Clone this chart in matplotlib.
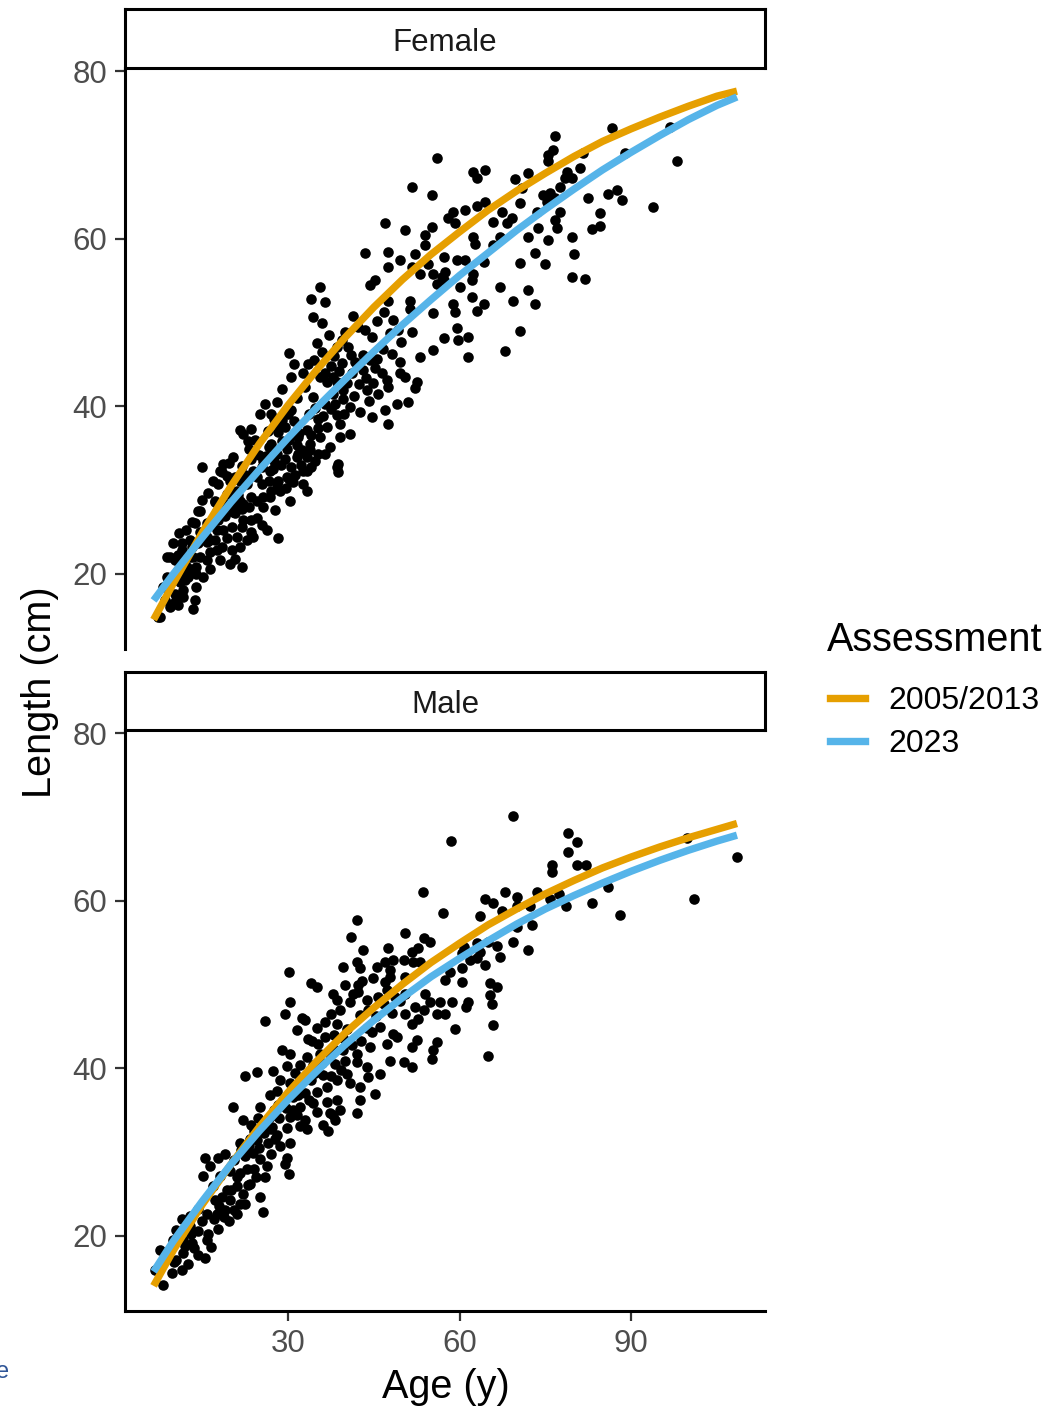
import numpy as np
import matplotlib
matplotlib.use("Agg")
import matplotlib.pyplot as plt
from matplotlib.lines import Line2D

plt.rcParams['font.family'] = ['Liberation Sans', 'DejaVu Sans']

# Alter (y) und Laenge (cm) der Einzelfische
female_points = np.array([
    (76.7, 72.2), (76.4, 70.6), (75.5, 70.0), (75.5, 69.2), (86.6, 73.2), (88.9, 70.2), (96.8, 73.3), (98.0, 69.2),
    (93.9, 63.8), (88.4, 64.6), (87.5, 65.8), (86.0, 65.3), (82.5, 64.9), (84.6, 63.0), (84.6, 61.5), (83.1, 61.1),
    (81.1, 68.4), (81.6, 70.2), (79.6, 67.2), (78.5, 67.2), (78.7, 68.0), (77.6, 66.2), (76.7, 64.8), (75.8, 65.4),
    (74.6, 65.2), (75.2, 64.4), (77.6, 63.2), (76.7, 62.2), (77.0, 61.2), (73.7, 61.2), (73.5, 63.2), (72.0, 67.8),
    (69.7, 67.1), (70.9, 66.0), (70.6, 64.2), (72.0, 60.2), (73.2, 58.3), (75.5, 59.8), (75.0, 57.0), (70.6, 57.1),
    (72.0, 53.8), (73.2, 52.2), (69.4, 52.6), (70.6, 49.0), (79.6, 60.2), (80.0, 58.1), (79.6, 55.4), (81.9, 55.2),
    (67.9, 46.6), (67.1, 54.2), (64.2, 52.2), (63.0, 51.4), (62.1, 53.0), (58.9, 52.2), (59.2, 51.2), (60.1, 54.2),
    (59.5, 49.3), (59.8, 47.9), (61.5, 48.3), (57.2, 48.1), (61.5, 45.9), (62.4, 55.8), (62.1, 55.0), (64.2, 57.2),
    (61.0, 57.4), (59.5, 57.4), (57.2, 57.8), (57.5, 56.0), (57.2, 55.0), (62.7, 59.4), (62.4, 60.2), (65.9, 59.2),
    (67.1, 60.2), (65.9, 62.0), (68.3, 61.8), (69.1, 62.4), (67.4, 63.2), (64.5, 64.4), (63.0, 63.9), (61.0, 63.4),
    (58.9, 63.2), (58.0, 62.4), (59.2, 61.8), (62.4, 68.0), (63.0, 67.2), (64.5, 68.2), (56.0, 69.6),
    (51.6, 66.2), (55.1, 65.2), (47.0, 61.8), (50.5, 61.0), (55.1, 61.4), (54.0, 60.4), (54.0, 59.2), (52.2, 58.2),
    (47.5, 58.4), (43.5, 58.3), (49.6, 57.4), (47.5, 56.6), (51.6, 56.6), (53.1, 55.8), (54.5, 57.0), (55.4, 55.8),
    (45.2, 55.0), (44.3, 54.4), (35.6, 54.2), (56.9, 55.4), (56.0, 54.6),
    (34.1, 52.8), (36.5, 52.4), (34.4, 50.6), (35.9, 49.9), (41.4, 50.7), (46.7, 51.2), (51.3, 52.6), (51.3, 51.6),
    (47.5, 52.6), (55.4, 51.1), (43.5, 49.1), (44.6, 48.3), (42.3, 49.5), (45.5, 50.1), (47.8, 48.7), (49.3, 49.1),
    (51.6, 48.9), (48.4, 50.3), (40.0, 48.9), (39.4, 47.9), (38.5, 47.1), (40.5, 47.1), (41.1, 46.1), (43.2, 46.1),
    (41.7, 45.3), (44.3, 45.5), (45.2, 44.5), (43.2, 44.3), (46.4, 43.9), (47.3, 43.1), (47.5, 42.3), (49.6, 45.3),
    (49.6, 43.9), (50.5, 43.5), (52.5, 42.9), (53.1, 45.9), (52.2, 42.1), (49.0, 40.3), (51.0, 40.5), (47.5, 37.9),
    (47.0, 39.5), (44.6, 38.7), (42.6, 39.3), (37.9, 41.5), (39.7, 41.9), (40.3, 42.7), (38.5, 42.9), (36.8, 42.9),
    (35.6, 43.5), (32.7, 43.9), (33.0, 42.3), (34.4, 41.1), (36.5, 40.3), (38.2, 40.3), (39.7, 40.9), (40.8, 39.9),
    (43.8, 41.9), (44.9, 42.7), (45.8, 41.5), (35.3, 38.5), (36.8, 37.5), (39.1, 37.9), (40.8, 36.7), (39.1, 36.3),
    (35.6, 36.3), (33.3, 37.1), (33.8, 35.5), (37.3, 35.1), (38.8, 33.1), (38.8, 32.1), (33.3, 33.9), (32.4, 34.7),
    (33.3, 32.3), (55.4, 46.7),
    (26.0, 40.3), (25.1, 39.1), (21.6, 37.1), (22.2, 36.7), (23.6, 37.3), (14.9, 32.7), (20.4, 33.9), (18.7, 33.1),
    (18.1, 32.3), (19.3, 31.7), (16.9, 31.1), (17.8, 30.7), (21.9, 32.9), (23.6, 33.7), (20.7, 31.5), (22.8, 30.7),
    (24.5, 31.5), (25.4, 32.7), (26.6, 31.1), (27.1, 29.9), (25.7, 29.1), (24.5, 28.7), (23.1, 27.9), (21.6, 28.7),
    (20.7, 28.3), (19.0, 28.3), (17.2, 28.7), (17.5, 27.5), (14.6, 27.5), (13.7, 26.0), (14.6, 25.0), (16.7, 26.0),
    (19.0, 26.9), (20.7, 27.2), (21.9, 27.7), (23.6, 26.4), (24.5, 26.6), (21.9, 25.6), (20.2, 25.6), (18.7, 25.2),
    (17.2, 24.0), (15.8, 23.8), (13.2, 23.2), (11.4, 23.6), (9.9, 23.6), (9.4, 22.0), (10.8, 22.2), (12.9, 22.0),
    (14.6, 22.0), (16.4, 22.6), (18.4, 23.2), (20.2, 22.8), (21.6, 23.2), (21.0, 24.4), (23.6, 25.0), (28.3, 24.2),
    (21.9, 20.8), (12.3, 20.8), (14.0, 20.8), (10.8, 20.4), (8.8, 19.6), (11.1, 19.0), (12.6, 19.6), (14.0, 18.4),
    (10.2, 17.6), (11.7, 17.2), (8.5, 16.8), (9.7, 16.4), (13.4, 15.8), (7.3, 14.8), (10.8, 16.2),
    (26.6, 35.1), (28.3, 36.9), (28.9, 38.3), (30.6, 39.5), (29.5, 33.7), (30.6, 32.7), (31.8, 34.3), (30.1, 31.3),
    (33.3, 29.9), (30.3, 28.7), (28.3, 31.1), (27.4, 32.5), (27.1, 35.5), (28.0, 34.3), (31.8, 36.3), (34.1, 32.7),
    (35.3, 34.3), (38.5, 32.7),
    (23.1, 34.9), (25.7, 33.5), (26.9, 32.3), (28.0, 30.7), (29.8, 31.5), (30.9, 30.9), (28.6, 29.9), (26.8, 29.1),
    (25.7, 27.9), (23.9, 24.4), (22.2, 26.4), (19.3, 24.2), (17.5, 22.8), (15.8, 21.6), (16.4, 20.6), (14.0, 20.0),
    (13.7, 16.8), (10.5, 16.8), (9.4, 16.0), (7.6, 14.8), (8.2, 18.4), (10.2, 21.6), (8.8, 22.0), (11.4, 22.8),
    (12.9, 24.0), (13.2, 26.2), (14.3, 27.5), (15.8, 26.0), (17.2, 28.5), (19.3, 29.5), (18.4, 32.1), (19.9, 31.1),
    (21.6, 31.1), (21.0, 29.9), (19.9, 27.9), (22.2, 28.3), (23.6, 29.1), (17.5, 25.2), (16.4, 24.0), (18.1, 21.6),
    (19.9, 21.2), (15.2, 19.6), (12.0, 19.2), (11.7, 18.0), (14.3, 23.6), (13.4, 22.0), (12.6, 20.4), (11.1, 20.0),
    (15.8, 24.4), (17.8, 26.4), (20.4, 27.3), (25.4, 30.7), (31.5, 33.9), (29.8, 34.9), (32.7, 32.3), (32.7, 30.7),
    (34.7, 33.5), (36.5, 34.3), (33.8, 34.7),
    (29.0, 42.0), (30.5, 43.5), (31.5, 41.0), (28.0, 40.5), (30.0, 39.0), (27.5, 38.5), (29.5, 37.5), (27.0, 39.0),
    (28.5, 37.8), (26.5, 37.0), (30.2, 36.0), (29.0, 35.8), (31.0, 38.2), (34.5, 45.5), (36.0, 46.5), (37.5, 44.8),
    (36.5, 44.0), (33.5, 45.0), (38.0, 46.0), (35.0, 47.5), (37.2, 48.5), (39.5, 45.2), (31.0, 45.0), (30.2, 46.3),
    (20.0, 30.0), (21.2, 29.4), (22.5, 31.8), (23.8, 32.2), (24.9, 34.2), (26.2, 34.0), (27.6, 33.4), (28.8, 33.0),
    (29.6, 30.2), (31.2, 31.8), (32.2, 33.0), (34.0, 36.5), (35.2, 37.4), (36.2, 38.8), (37.6, 39.6), (38.6, 38.9),
    (39.8, 39.0), (41.6, 41.2), (42.4, 42.6), (43.6, 43.4), (44.2, 40.6), (45.6, 45.6), (46.6, 46.8), (48.2, 46.2),
    (49.8, 47.6), (41.2, 44.0), (39.0, 44.2), (37.8, 43.5), (34.8, 39.8), (33.6, 39.0), (32.0, 36.8), (31.6, 35.4),
    (24.2, 36.0), (23.0, 35.8), (19.6, 33.2), (16.0, 29.6), (15.0, 28.8), (12.2, 25.2), (11.0, 24.8), (25.5, 25.8),
    (27.8, 27.6), (26.4, 25.2), (22.8, 24.0), (20.8, 21.8),
])

male_points = np.array([
    (69.4, 70.1), (79.0, 68.1), (80.5, 67.0), (79.0, 65.8), (76.1, 64.3), (76.1, 63.4), (80.5, 64.2), (82.1, 64.2),
    (86.0, 61.6), (83.1, 59.7), (88.1, 58.3), (99.7, 67.5), (101.0, 60.2), (108.5, 65.2), (78.6, 59.4), (73.5, 61.0),
    (75.8, 60.2), (77.3, 60.8), (68.0, 61.0), (70.0, 60.4), (64.5, 60.2), (65.9, 59.7), (67.4, 58.8), (63.6, 58.1),
    (70.0, 59.3), (72.3, 59.4), (70.0, 56.9), (72.6, 57.1), (69.4, 55.1), (66.5, 54.6), (67.1, 53.3), (72.0, 54.1),
    (65.0, 55.1), (63.6, 53.9), (64.5, 52.3), (65.3, 50.1), (66.5, 49.7),
    (58.5, 67.1), (53.6, 61.0), (57.1, 58.5), (42.0, 57.7), (41.0, 55.7), (50.5, 56.1), (43.1, 54.1), (47.5, 54.3),
    (53.7, 55.5), (54.8, 55.1), (52.8, 54.3), (51.6, 53.9), (39.7, 52.1), (42.0, 52.7), (42.6, 51.9), (45.5, 52.1),
    (47.0, 52.7), (48.4, 52.9), (50.2, 52.9), (51.9, 52.7), (53.1, 52.7), (47.8, 51.7), (47.8, 50.9), (47.0, 50.3),
    (47.3, 49.3), (50.5, 50.9), (40.0, 49.9), (42.3, 49.9), (42.3, 49.1), (37.9, 48.9), (38.5, 48.1), (40.8, 47.9),
    (43.8, 48.1), (45.8, 48.5), (44.0, 46.9), (42.6, 46.3), (39.1, 46.9), (37.6, 46.5), (38.5, 45.3), (40.3, 44.7),
    (46.1, 44.9), (44.6, 44.3), (48.4, 44.1), (50.5, 46.5), (52.2, 47.3), (53.7, 46.9), (52.8, 45.9), (51.6, 45.3),
    (54.8, 47.9), (56.6, 47.9), (53.9, 48.9), (56.0, 46.5), (58.6, 47.9), (57.5, 46.5), (59.2, 44.7), (57.5, 50.5),
    (58.3, 51.5), (60.4, 51.9), (60.4, 50.3), (61.5, 47.9), (61.2, 47.3), (65.3, 48.7), (65.6, 47.7), (65.9, 45.1),
    (60.7, 54.5), (61.8, 52.9), (63.0, 53.1), (60.4, 53.7), (63.0, 54.9), (50.5, 48.9), (48.7, 48.5),
    (30.1, 51.5), (30.3, 47.9), (29.5, 46.5), (34.1, 50.1), (35.0, 49.7), (33.0, 45.7), (28.9, 42.1), (30.3, 41.7),
    (33.3, 41.3), (35.6, 41.7), (34.4, 40.4), (32.1, 40.4), (29.8, 40.2), (28.6, 38.6), (30.3, 38.2), (32.1, 38.6),
    (34.1, 38.6), (36.2, 39.2), (36.8, 37.8), (35.0, 37.2), (33.0, 37.0), (30.9, 36.6), (29.2, 36.2), (32.1, 35.4),
    (34.4, 35.8), (36.8, 36.0), (38.5, 36.2), (39.1, 35.0), (37.3, 34.6), (35.0, 34.8), (33.0, 33.8), (30.3, 34.2),
    (36.2, 33.2), (38.2, 33.8), (40.8, 38.2), (42.6, 37.8), (40.3, 39.3), (43.8, 40.1), (42.0, 40.7), (40.0, 40.9),
    (38.2, 40.5), (44.0, 38.9), (45.2, 36.9), (42.6, 36.2), (42.0, 34.6), (38.5, 38.6), (37.3, 41.7), (39.7, 42.1),
    (42.0, 41.7), (44.3, 42.5), (47.3, 42.9), (49.0, 43.7), (47.8, 40.9), (51.6, 40.1), (50.2, 40.7), (55.1, 41.1),
    (55.4, 42.1), (52.5, 43.3), (51.6, 42.5), (46.1, 39.3), (65.0, 41.5), (56.0, 43.1),
    (22.5, 39.1), (24.5, 39.5), (27.4, 39.7), (20.4, 35.4), (22.2, 33.8), (23.6, 33.2), (24.8, 34.0), (25.1, 35.4),
    (26.8, 36.8), (28.0, 37.3), (27.1, 32.7), (27.7, 31.5), (28.6, 30.7), (30.3, 31.1), (29.8, 32.9), (32.1, 33.1),
    (33.3, 32.7), (31.5, 34.4), (29.8, 29.3), (30.1, 27.3), (29.5, 28.5), (26.3, 28.3), (25.1, 29.1), (23.9, 29.9),
    (22.5, 29.5), (21.6, 31.1), (23.4, 31.5), (15.5, 29.3), (17.8, 29.3), (19.0, 29.7), (16.4, 28.3), (15.2, 27.1),
    (18.1, 27.1), (19.9, 27.7), (21.6, 27.5), (22.8, 27.9), (21.0, 25.9), (23.4, 26.2), (19.3, 25.4), (18.4, 24.6),
    (19.9, 24.2), (21.6, 23.8), (19.0, 23.0), (21.0, 22.6), (22.5, 23.8), (25.1, 24.6), (25.7, 22.8), (19.6, 21.8),
    (17.8, 20.8), (15.8, 22.6), (14.9, 21.8), (12.9, 22.4), (11.4, 22.0), (14.3, 20.5), (12.9, 21.1), (10.5, 20.7),
    (11.7, 19.5), (13.2, 19.1), (9.9, 19.5), (7.6, 18.3), (8.8, 17.5), (10.5, 17.1), (11.7, 17.9), (14.3, 17.7),
    (15.5, 17.3), (11.4, 15.9), (9.7, 15.5), (6.7, 15.9), (8.2, 14.1), (15.8, 19.5), (17.5, 22.6), (16.9, 25.9),
    (37.0, 32.5), (35.3, 42.9), (36.5, 43.7), (38.2, 42.1), (37.9, 34.4), (25.9, 45.6),
    (31.5, 44.5), (33.5, 43.5), (35.0, 44.8), (36.5, 45.5), (32.5, 46.0), (24.0, 32.5), (26.0, 33.5), (27.5, 35.0),
    (28.5, 34.0), (26.5, 31.0), (25.0, 30.5), (27.0, 29.8), (28.0, 32.0), (22.5, 30.5), (24.0, 28.0), (26.0, 27.0),
    (23.0, 26.0), (21.0, 27.0), (20.0, 25.5), (18.0, 23.5), (17.0, 22.0), (16.0, 20.2), (13.5, 18.5), (12.0, 18.8),
    (10.0, 16.8),
    (20.5, 29.0), (21.8, 30.2), (23.2, 30.8), (24.6, 31.4), (25.8, 32.2), (26.8, 34.2), (28.2, 35.6), (29.6, 35.2),
    (30.8, 35.0), (31.8, 36.8), (33.6, 36.2), (34.8, 39.4), (36.0, 40.6), (37.6, 39.0), (39.2, 39.8), (41.2, 42.8),
    (42.8, 43.2), (43.8, 44.8), (45.4, 46.2), (46.8, 47.6), (48.2, 46.6), (49.6, 48.0), (44.8, 50.8), (43.0, 50.4),
    (41.4, 48.8), (39.6, 43.6), (38.0, 44.0), (34.2, 43.2), (31.2, 39.4), (27.2, 33.0), (24.4, 27.0), (22.2, 25.0),
    (20.6, 23.0), (18.8, 22.2), (17.2, 24.2), (14.2, 23.2), (13.0, 20.2), (16.6, 18.6), (12.6, 16.6), (9.2, 18.0),
])

# Wachstumskurven
curve_age = [6.5, 10, 15, 20, 25, 30, 35, 40, 45, 50, 55, 60, 65, 70, 75, 80, 85, 90, 95, 100, 105, 108.5]
female_2005 = [14.5, 18.9, 24.9, 30.4, 35.5, 40.1, 44.3, 48.2, 51.8, 55.1, 58.1, 60.8,
               63.4, 65.7, 67.8, 69.8, 71.6, 73.1, 74.5, 75.8, 77.0, 77.6]
female_2023 = [16.8, 20.0, 24.3, 28.5, 32.4, 36.2, 39.8, 43.2, 46.5, 49.7, 52.7, 55.6,
               58.3, 61.0, 63.5, 65.9, 68.2, 70.3, 72.3, 74.2, 75.9, 76.9]
male_2005 = [14.0, 18.3, 23.7, 28.5, 33.0, 37.1, 40.8, 44.2, 47.2, 50.0, 52.6, 54.9,
             57.1, 59.0, 60.8, 62.4, 63.9, 65.2, 66.4, 67.5, 68.5, 69.2]
male_2023 = [15.7, 19.4, 24.1, 28.5, 32.5, 36.2, 39.6, 42.8, 45.7, 48.4, 50.9, 53.1,
             55.2, 57.2, 59.0, 60.6, 62.1, 63.5, 64.8, 66.0, 67.1, 67.8]

panels = ["Female", "Male"]
assessments = ["2005/2013", "2023"]
colors = ["#E69F00", "#56B4E9"]
xticks = [30, 60, 90]
yticks = [20, 40, 60, 80]

W, H = 1058, 1408
fig = plt.figure(figsize=(W / 100, H / 100), dpi=100)

# Positionen in Pixeln: (panel oben, panel unten, streifen oben)
layout = [(68, 649, 9), (730, 1311, 672)]
left, right = 125, 765

data = [(female_points, female_2005, female_2023), (male_points, male_2005, male_2023)]

for i, (name, (top, bottom, strip_top)) in enumerate(zip(panels, layout)):
    pts, c05, c23 = data[i]
    ax = fig.add_axes([left / W, 1 - bottom / H, (right - left) / W, (bottom - top) / H])
    ax.scatter(pts[:, 0], pts[:, 1], s=58, color="black", linewidths=0, zorder=2)
    ax.plot(curve_age, c05, color=colors[0], lw=5.3, zorder=3, solid_capstyle="butt")
    ax.plot(curve_age, c23, color=colors[1], lw=5.3, zorder=4, solid_capstyle="butt")
    ax.set_xlim(1.5, 113.4)
    ax.set_ylim(11.0, 80.36)
    ax.set_yticks(yticks)
    for s in ["top", "right"]:
        ax.spines[s].set_visible(False)
    ax.spines["left"].set_linewidth(2.2)
    ax.spines["bottom"].set_linewidth(2.2)
    ax.tick_params(axis="both", length=7, width=1.6, color="#333333", labelsize=22.5,
                   labelcolor="#4D4D4D", pad=6)
    if i == 0:
        ax.spines["bottom"].set_visible(False)
        ax.set_xticks([])
    else:
        ax.set_xticks(xticks)

    # Streifen mit Panelname
    sax = fig.add_axes([left / W, 1 - top / H, (right - left) / W, (top - strip_top) / H])
    sax.set_xticks([])
    sax.set_yticks([])
    for s in sax.spines.values():
        s.set_linewidth(2.2)
        s.set_color("black")
    sax.text(0.5, 0.43, name, ha="center", va="center", fontsize=22.5, color="#1A1A1A",
             transform=sax.transAxes)

fig.text(40 / W, 1 - 692 / H, "Length (cm)", rotation=90, ha="center", va="center", fontsize=28.5)
fig.text(446 / W, 1 - 1387 / H, "Age (y)", ha="center", va="center", fontsize=28.5)

# Legende: Titel extra, damit der Abstand passt
fig.text(827 / W, 1 - 640 / H, "Assessment", ha="left", va="center", fontsize=28.5)
handles = [Line2D([0], [0], color=c, lw=5.3) for c in colors]
fig.legend(handles, assessments, loc="upper left",
           bbox_to_anchor=(830 / W, 1 - 686 / H), frameon=False, fontsize=23,
           handlelength=1.1, handletextpad=0.72, labelspacing=0.4,
           borderaxespad=0, borderpad=0)

# abgeschnittenes Zeichen am linken Rand
fig.text(-0.004, 1 - 1372 / H, "e", ha="left", va="center", fontsize=17, color="#2F5597")

fig.savefig("out.png", dpi=100)
